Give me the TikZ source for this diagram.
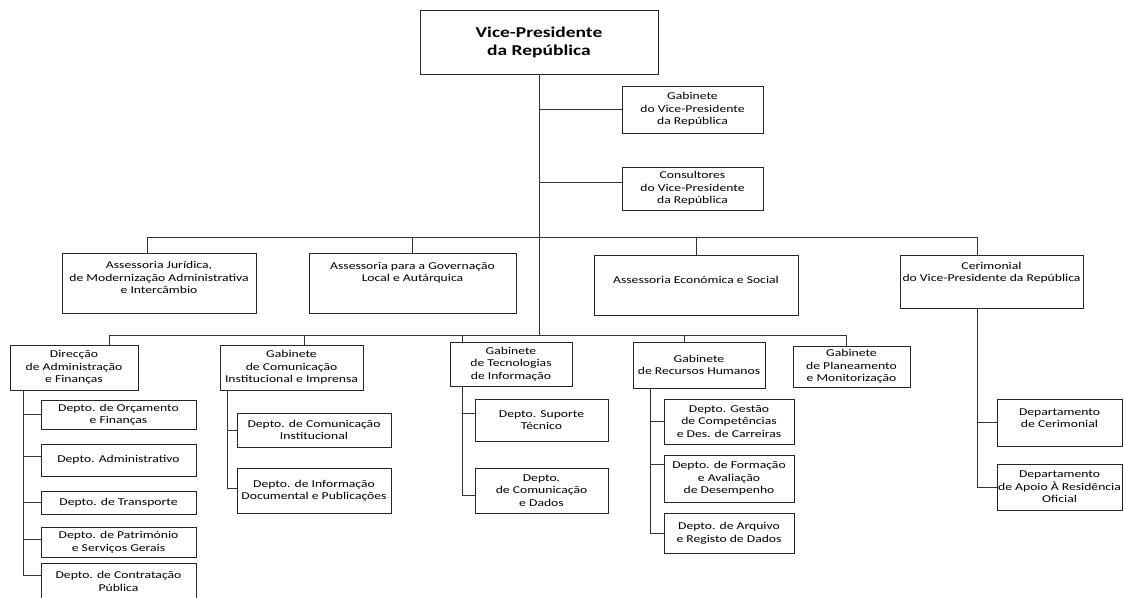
\documentclass[tikz,border=0pt]{standalone}
\usepackage{fontspec}
\setmainfont[FakeStretch=1.3]{Carlito}
\begin{document}
\begin{tikzpicture}[x=1pt,y=-1pt,
  box/.style={draw=black!85, line width=0.9pt, align=center, inner sep=1pt, text=black,
              font=\fontsize{10.5}{12.5}\selectfont},
  conn/.style={draw=black!80, line width=0.9pt},
  txtup/.style={text depth=#1}]
\useasboundingbox[fill=white] (0,0) rectangle (1124,597);

% top
\node[box, minimum width=238pt, minimum height=64pt, font=\fontsize{15}{18}\selectfont\bfseries] (vp) at (539,42) {Vice-Presidente\\da República};
\node[box, minimum width=141pt, minimum height=47pt] (gvp) at (692.5,109.5) {Gabinete\\do Vice-Presidente\\da República};
\node[box, minimum width=141pt, minimum height=43pt] (cons) at (692.5,188.5) {Consultores\\do Vice-Presidente\\da República};

% second row
\node[box, minimum width=194pt, minimum height=60pt, txtup=11pt] (aj) at (159,283) {Assessoria Jurídica,\\de Modernização Administrativa\\e Intercâmbio};
\node[box, minimum width=207pt, minimum height=60pt, txtup=22pt] (ag) at (412.5,283) {Assessoria para a Governação\\Local e Autárquica};
\node[box, minimum width=204pt, minimum height=60pt, txtup=11pt] (ae) at (696,285) {Assessoria Económica e Social};
\node[box, minimum width=183pt, minimum height=53pt, txtup=19pt] (cer) at (991.5,281.5) {Cerimonial\\do Vice-Presidente da República};

% third row
\node[box, minimum width=128pt, minimum height=45pt] (daf) at (74,367.5) {Direcção\\de Administração\\e Finanças};
\node[box, minimum width=143pt, minimum height=45pt] (gci) at (291.5,367.5) {Gabinete\\de Comunicação\\Institucional e Imprensa};
\node[box, minimum width=122pt, minimum height=44pt] (gti) at (511,364) {Gabinete\\de Tecnologias\\de Informação};
\node[box, minimum width=132pt, minimum height=46pt] (grh) at (699,365) {Gabinete\\de Recursos Humanos};
\node[box, minimum width=117pt, minimum height=41pt] (gpm) at (851.5,366.5) {Gabinete\\de Planeamento\\e Monitorização};

% departments of Direcção
\node[box, minimum width=155pt, minimum height=29pt] (d1) at (118.5,414.5) {Depto. de Orçamento\\e Finanças};
\node[box, minimum width=155pt, minimum height=32pt] (d2) at (118.5,460) {Depto. Administrativo};
\node[box, minimum width=155pt, minimum height=23pt] (d3) at (118.5,502.5) {Depto. de Transporte};
\node[box, minimum width=155pt, minimum height=30pt] (d4) at (118.5,542) {Depto. de Património\\e Serviços Gerais};
\node[box, minimum width=155pt, minimum height=37pt] (d5) at (118.5,581.5) {Depto. de Contratação\\Pública};

% departments of Gabinete de Comunicação
\node[box, minimum width=154pt, minimum height=34pt] (e1) at (314,430) {Depto. de Comunicação\\Institucional};
\node[box, minimum width=154pt, minimum height=45pt] (e2) at (314,490.5) {Depto. de Informação\\Documental e Publicações};

% departments of Gabinete de Tecnologias
\node[box, minimum width=133pt, minimum height=42pt] (f1) at (541.5,420) {Depto. Suporte\\Técnico};
\node[box, minimum width=133pt, minimum height=45pt] (f2) at (541.5,490.5) {Depto.\\de Comunicação\\e Dados};

% departments of Gabinete de Recursos Humanos
\node[box, minimum width=130pt, minimum height=45pt] (g1) at (729,421.5) {Depto. Gestão\\de Competências\\e Des. de Carreiras};
\node[box, minimum width=130pt, minimum height=47pt] (g2) at (729,478.5) {Depto. de Formação\\e Avaliação\\de Desempenho};
\node[box, minimum width=130pt, minimum height=40pt] (g3) at (729,533) {Depto. de Arquivo\\e Registo de Dados};

% departments of Cerimonial
\node[box, minimum width=125pt, minimum height=47pt, txtup=9pt] (h1) at (1059.5,422.5) {Departamento\\de Cerimonial};
\node[box, minimum width=125pt, minimum height=46pt] (h2) at (1059.5,487) {Departamento\\de Apoio À Residência\\Oficial};

% coordinates
\coordinate (b2L) at (147,237);
\coordinate (b2R) at (977,237);
\coordinate (b3L) at (109,335);
\coordinate (b3R) at (846,335);
\coordinate (b3b) at (304,335);
\coordinate (b3c) at (462,335);
\coordinate (b3d) at (684,335);
\coordinate (tA) at (23,390);
\coordinate (tB) at (227,390);
\coordinate (tD) at (650,388);
\coordinate (consW) at ([yshift=6.5pt]cons.west);
\coordinate (d2w) at ([yshift=4pt]d2.west);
\coordinate (d4w) at ([yshift=3pt]d4.west);
\coordinate (d5w) at ([yshift=6.5pt]d5.west);
\coordinate (e2w) at ([yshift=2.5pt]e2.west);
\coordinate (f1w) at ([yshift=7pt]f1.west);
\coordinate (f2w) at ([yshift=-4.5pt]f2.west);
\coordinate (g2w) at ([yshift=14.5pt]g2.west);

% main trunk
\draw[conn] (vp.south) -- (vp.south |- b3L);
\draw[conn] (vp.south |- gvp.west) -- (gvp.west);
\draw[conn] (vp.south |- consW) -- (consW);

% second bus
\draw[conn] (b2L) -- (b2R);
\draw[conn] (b2L) -- (b2L |- aj.north);
\draw[conn] (ag.north |- b2L) -- (ag.north);
\draw[conn] (ae.north |- b2L) -- (ae.north);
\draw[conn] (b2R) -- (b2R |- cer.north);

% third bus
\draw[conn] (b3L) -- (b3R);
\draw[conn] (b3L) -- (b3L |- daf.north);
\draw[conn] (b3b) -- (b3b |- gci.north);
\draw[conn] (b3c) -- (b3c |- gti.north);
\draw[conn] (b3d) -- (b3d |- grh.north);
\draw[conn] (b3R) -- (b3R |- gpm.north);

% Direcção branches
\draw[conn] (tA |- daf.south) -- (tA |- d5w);
\draw[conn] (tA |- d1.west) -- (d1.west);
\draw[conn] (tA |- d2w) -- (d2w);
\draw[conn] (tA |- d3.west) -- (d3.west);
\draw[conn] (tA |- d4w) -- (d4w);
\draw[conn] (tA |- d5w) -- (d5w);

% Comunicação branches
\draw[conn] (tB |- gci.south) -- (tB |- e2w);
\draw[conn] (tB |- e1.west) -- (e1.west);
\draw[conn] (tB |- e2w) -- (e2w);

% Tecnologias branches
\draw[conn] (b3c |- gti.south) -- (b3c |- f2w);
\draw[conn] (b3c |- f1w) -- (f1w);
\draw[conn] (b3c |- f2w) -- (f2w);

% Recursos Humanos branches
\draw[conn] (tD |- grh.south) -- (tD |- g3.west);
\draw[conn] (tD |- g1.west) -- (g1.west);
\draw[conn] (tD |- g2w) -- (g2w);
\draw[conn] (tD |- g3.west) -- (g3.west);

% Cerimonial branches
\draw[conn] (b2R |- cer.south) -- (b2R |- h2.west);
\draw[conn] (b2R |- h1.west) -- (h1.west);
\draw[conn] (b2R |- h2.west) -- (h2.west);
\end{tikzpicture}
\end{document}
